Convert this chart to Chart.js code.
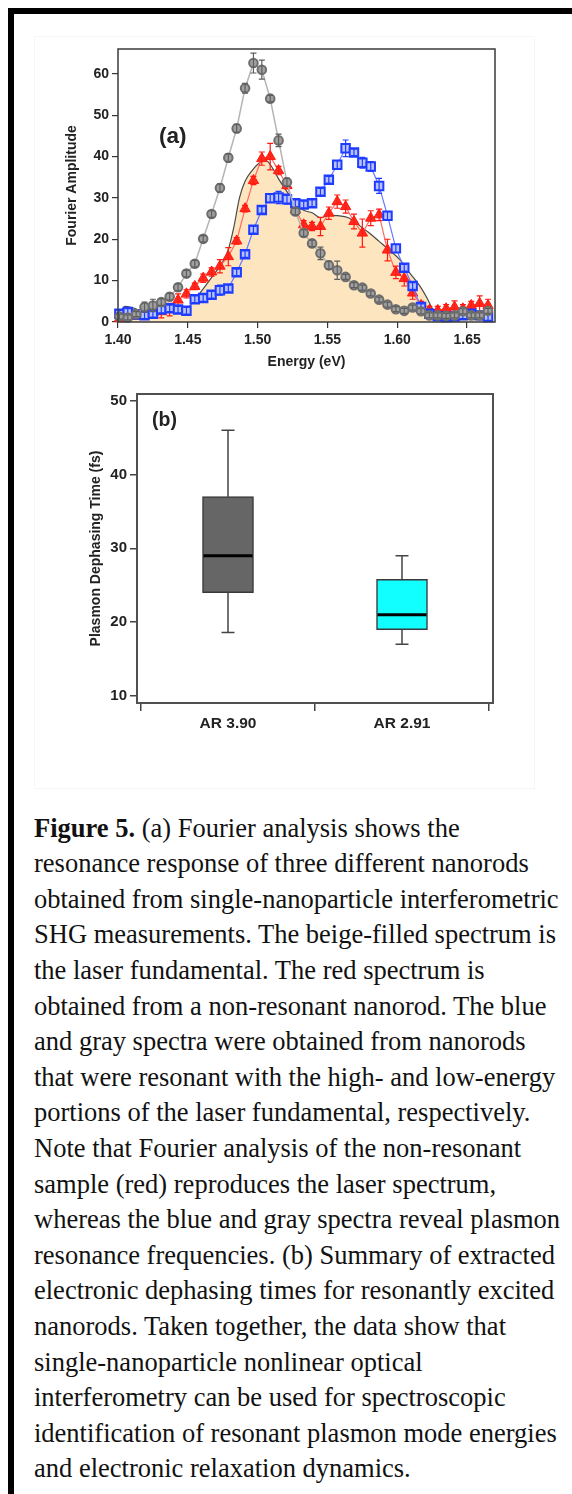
<!DOCTYPE html>
<html>
<head>
<meta charset="utf-8">
<script src="https://cdn.jsdelivr.net/npm/chart.js@4.4.0/dist/chart.umd.min.js"></script>
<style>
body{margin:0;background:#fff;width:572px;height:1494px;overflow:hidden;position:relative;}
#frame{position:absolute;left:8px;top:8px;width:700px;height:1600px;border-left:6px solid #000;border-top:6px solid #000;}
#inner{position:absolute;left:34px;top:36px;width:499px;height:751px;border:1px solid #f6f6f6;}
canvas{position:absolute;left:0;}
#chartA{top:0;}
#chartB{top:380px;}
.tag{position:absolute;font-family:'Liberation Sans',Arial,sans-serif;font-weight:bold;color:#222;line-height:1;}
#caption{position:absolute;left:34px;top:810.6px;font-family:'Liberation Serif','Times New Roman',serif;font-size:26.5px;line-height:35.6px;color:#111;white-space:nowrap;}
</style>
</head>
<body>
<div id="frame"></div>
<div id="inner"></div>
<canvas id="chartA" width="572" height="380"></canvas>
<canvas id="chartB" width="572" height="400"></canvas>
<span class="tag" style="left:159px;top:124.5px;font-size:22.5px;">(a)</span>
<span class="tag" style="left:152px;top:410px;font-size:19.5px;">(b)</span>
<div id="caption"><b>Figure 5.</b> (a) Fourier analysis shows the<br>resonance response of three different nanorods<br>obtained from single-nanoparticle interferometric<br>SHG measurements. The beige-filled spectrum is<br>the laser fundamental. The red spectrum is<br>obtained from a non-resonant nanorod. The blue<br>and gray spectra were obtained from nanorods<br>that were resonant with the high- and low-energy<br>portions of the laser fundamental, respectively.<br>Note that Fourier analysis of the non-resonant<br>sample (red) reproduces the laser spectrum,<br>whereas the blue and gray spectra reveal plasmon<br>resonance frequencies. (b) Summary of extracted<br>electronic dephasing times for resonantly excited<br>nanorods. Taken together, the data show that<br>single-nanoparticle nonlinear optical<br>interferometry can be used for spectroscopic<br>identification of resonant plasmon mode energies<br>and electronic relaxation dynamics.</div>
<script>
// ---- panel (a) data: Fourier amplitude vs energy (eV)
const energies = [1.401,1.407,1.413,1.419,1.425,1.431,1.437,1.443,1.449,1.455,1.461,1.467,1.473,1.479,1.485,1.491,1.497,1.503,1.509,1.515,1.521,1.527,1.533,1.539,1.545,1.551,1.557,1.563,1.569,1.575,1.581,1.587,1.593,1.599,1.605,1.611,1.617,1.623,1.629,1.635,1.641,1.647,1.653,1.659,1.665];
const grayAmp = [1.3,1.1,1.9,3.6,4.0,4.8,6.1,8.4,11.7,14.1,20.1,26.1,32.4,39.7,46.8,56.5,62.6,61.0,54.0,43.9,33.8,26.7,21.5,19.0,16.6,13.7,12.5,10.9,8.9,8.3,6.9,5.4,4.2,3.1,2.7,3.5,2.6,1.6,1.6,1.5,1.6,2.6,1.6,1.6,2.7];
const grayErr = [0.6,0.6,0.6,1.2,1.5,0.8,0.8,0.8,0.8,0.8,0.8,0.8,1.0,1.0,1.0,1.2,2.4,2.3,0.8,1.5,1.0,0.8,0.8,0.8,1.5,1.0,2.2,0.6,0.6,0.6,0.6,0.6,0.6,0.6,0.6,0.6,0.6,0.6,0.6,0.6,0.6,0.6,0.6,0.6,0.6];
const redAmp = [0.8,1.6,1.5,2.0,2.2,2.5,3.0,5.3,6.8,8.6,10.6,12.1,13.5,15.8,19.6,27.4,34.2,39.5,40.0,36.6,33.0,27.1,23.5,23.1,23.1,26.3,29.1,27.9,24.3,21.5,25.1,25.9,17.4,12.0,10.5,7.0,4.0,2.8,2.8,3.2,3.6,3.2,4.0,4.5,4.0];
const redErr = [0.5,0.5,0.8,0.8,0.8,1.5,1.5,1.5,1.0,0.8,1.0,1.0,1.6,2.2,0.8,0.8,1.0,1.6,3.2,1.0,0.8,0.8,1.0,1.0,2.2,1.5,1.6,1.6,1.8,3.4,1.8,1.4,2.6,1.5,1.8,1.5,1.0,1.0,1.0,1.0,1.5,1.0,1.0,1.8,1.5];
const blueAmp = [2.0,2.4,1.8,1.6,2.0,3.0,3.3,3.0,2.7,5.5,5.8,6.6,7.7,8.1,12.0,16.4,22.3,27.1,29.9,30.1,29.7,28.7,28.4,28.7,31.5,34.4,38.0,42.0,41.0,38.5,37.6,32.9,25.7,17.8,13.1,8.7,3.6,2.0,1.4,1.2,1.3,1.6,2.0,1.6,1.2];
const blueErr = [0.8,0.8,0.8,0.8,0.8,0.8,0.8,0.8,0.8,0.8,0.8,0.8,1.2,0.8,0.8,0.8,0.8,0.8,1.0,1.5,1.2,0.8,0.8,0.8,0.8,0.8,1.0,2.0,0.8,1.3,1.2,1.8,1.0,1.0,0.8,0.8,0.8,0.8,0.8,0.8,0.8,0.8,0.8,0.8,0.8];
// laser fundamental (beige filled spectrum)
const laserE = [1.400,1.405,1.410,1.416,1.422,1.430,1.438,1.446,1.451,1.455,1.461,1.468,1.474,1.479,1.483,1.487,1.491,1.496,1.502,1.506,1.510,1.515,1.521,1.527,1.533,1.539,1.545,1.551,1.557,1.565,1.573,1.580,1.587,1.595,1.602,1.609,1.616,1.621,1.626,1.631,1.640,1.650,1.660,1.667];
const laserAmp = [1.2,3.8,3.5,2.8,2.5,2.6,3.2,3.6,3.8,5.4,8.0,11.2,14.0,17.5,23.0,30.0,34.0,36.6,38.6,39.0,37.6,34.6,31.5,28.7,27.0,26.4,25.2,25.8,25.7,25.2,23.3,21.5,19.5,17.2,15.0,11.8,8.8,6.0,2.8,1.2,0.8,0.7,0.8,0.8];
const xTicksA = [1.40,1.45,1.50,1.55,1.60,1.65];
const yTicksA = [0,10,20,30,40,50,60];

// ---- panel (b) data: box plot of dephasing times (fs)
const boxLabels = ['AR 3.90','AR 2.91'];
const boxPos = [0,1];
const whiskLow = [18.6,17];
const boxLow = [24,19];
const medians = [29,21];
const boxHigh = [37,25.8];
const whiskHigh = [46,29];
const boxColors = ['#666666','#12ffff'];
const yTicksB = [10,20,30,40,50];
const xTicksB = [-0.5,0,0.5,1,1.5];

Chart.defaults.font.family = "'Liberation Sans', Arial, sans-serif";
Chart.defaults.color = '#222';

const pts = (xs, ys) => xs.map((x, i) => ({x: x, y: ys[i]}));

const framePlugin = {
  id: 'frame',
  afterDatasetsDraw(chart, args, opts) {
    const {ctx, chartArea: a} = chart;
    ctx.save();
    ctx.strokeStyle = opts.color;
    ctx.lineWidth = opts.width;
    ctx.strokeRect(a.left, a.top, a.right - a.left, a.bottom - a.top);
    ctx.restore();
  }
};

const errorBars = {
  id: 'errorBars',
  afterDatasetDraw(chart, args) {
    const ds = chart.data.datasets[args.index];
    if (!ds.errors) return;
    const ctx = chart.ctx, y = chart.scales.y;
    ctx.save();
    ctx.strokeStyle = ds.errorColor;
    ctx.lineWidth = 1.2;
    args.meta.data.forEach((p, i) => {
      const v = ds.data[i].y, e = ds.errors[i];
      const t = y.getPixelForValue(v + e), b = y.getPixelForValue(v - e);
      ctx.beginPath();
      ctx.moveTo(p.x, t); ctx.lineTo(p.x, b);
      ctx.moveTo(p.x - 3, t); ctx.lineTo(p.x + 3, t);
      ctx.moveTo(p.x - 3, b); ctx.lineTo(p.x + 3, b);
      ctx.stroke();
    });
    ctx.restore();
  }
};

const tickGrid = {drawOnChartArea: false, drawTicks: true, tickLength: 6, color: '#333', lineWidth: 1.2};

new Chart(document.getElementById('chartA'), {
  type: 'line',
  data: {
    datasets: [
      {data: pts(laserE, laserAmp), order: 4, borderColor: '#4a4a4a', borderWidth: 1.2,
       backgroundColor: '#fde5c0', fill: 'origin', pointRadius: 0, cubicInterpolationMode: 'monotone'},
      {data: pts(energies, redAmp), errors: redErr, errorColor: '#ff1a0f', order: 3, clip: false,
       borderColor: '#ff6a60', borderWidth: 1.2, pointStyle: 'triangle', pointRadius: 6,
       pointBackgroundColor: '#ff2a1f', pointBorderColor: '#ff1a0f', pointBorderWidth: 1},
      {data: pts(energies, blueAmp), errors: blueErr, errorColor: '#1e3cff', order: 2, clip: false,
       borderColor: '#6878ff', borderWidth: 1.2, pointStyle: 'rect', pointRadius: 6,
       pointBackgroundColor: '#b8c2ff', pointBorderColor: '#1e3cff', pointBorderWidth: 2},
      {data: pts(energies, grayAmp), errors: grayErr, errorColor: '#5e5e5e', order: 1, clip: false,
       borderColor: '#b4b4b4', borderWidth: 1.5, pointStyle: 'circle', pointRadius: 4.3,
       pointBackgroundColor: '#a0a0a0', pointBorderColor: '#6e6e6e', pointBorderWidth: 2}
    ]
  },
  options: {
    responsive: false, animation: false, devicePixelRatio: 1,
    layout: {padding: {left: 64, top: 49, right: 77, bottom: 9}},
    plugins: {legend: {display: false}, tooltip: {enabled: false}, frame: {color: '#3a3a3a', width: 1.5}},
    scales: {
      x: {
        type: 'linear', min: 1.40, max: 1.67,
        grid: tickGrid, border: {display: false},
        afterBuildTicks: s => { s.ticks = xTicksA.map(v => ({value: v})); },
        afterFit: s => { s.height = 49; },
        ticks: {font: {size: 14, weight: 'bold'}, padding: 4, maxRotation: 0, autoSkip: false,
                callback: v => v.toFixed(2)},
        title: {display: true, text: 'Energy (eV)', font: {size: 14, weight: 'bold'}, padding: 0}
      },
      y: {
        min: 0, max: 66,
        grid: tickGrid, border: {display: false},
        afterBuildTicks: s => { s.ticks = yTicksA.map(v => ({value: v})); },
        afterFit: s => { s.width = 54; },
        ticks: {font: {size: 14, weight: 'bold'}, padding: 3},
        title: {display: true, text: 'Fourier Amplitude', font: {size: 14, weight: 'bold'}, padding: 0}
      }
    }
  },
  plugins: [framePlugin, errorBars]
});

const boxExtras = {
  id: 'boxExtras',
  beforeDatasetsDraw(chart) {
    const {ctx} = chart, xs = chart.scales.x, ys = chart.scales.y;
    ctx.save();
    ctx.strokeStyle = '#444';
    ctx.lineWidth = 1.5;
    boxPos.forEach((p, i) => {
      const x = xs.getPixelForValue(p);
      const top = ys.getPixelForValue(whiskHigh[i]), bot = ys.getPixelForValue(whiskLow[i]);
      ctx.beginPath();
      ctx.moveTo(x, top); ctx.lineTo(x, ys.getPixelForValue(boxHigh[i]));
      ctx.moveTo(x, bot); ctx.lineTo(x, ys.getPixelForValue(boxLow[i]));
      ctx.moveTo(x - 6.5, top); ctx.lineTo(x + 6.5, top);
      ctx.moveTo(x - 6.5, bot); ctx.lineTo(x + 6.5, bot);
      ctx.stroke();
    });
    ctx.restore();
  },
  afterDatasetsDraw(chart) {
    const {ctx} = chart, ys = chart.scales.y;
    const meta = chart.getDatasetMeta(0);
    ctx.save();
    ctx.strokeStyle = '#000';
    ctx.lineWidth = 3;
    meta.data.forEach((bar, i) => {
      const y = ys.getPixelForValue(medians[i]);
      ctx.beginPath();
      ctx.moveTo(bar.x - bar.width / 2 + 1, y); ctx.lineTo(bar.x + bar.width / 2 - 1, y);
      ctx.stroke();
    });
    ctx.restore();
  }
};

new Chart(document.getElementById('chartB'), {
  type: 'bar',
  data: {
    datasets: [{
      data: boxPos.map((p, i) => ({x: p, y: [boxLow[i], boxHigh[i]]})),
      backgroundColor: boxColors, borderColor: '#3a3a3a', borderWidth: 1.5,
      borderSkipped: false, barThickness: 51
    }]
  },
  options: {
    responsive: false, animation: false, devicePixelRatio: 1,
    layout: {padding: {left: 88, top: 14, right: 79, bottom: 37}},
    plugins: {legend: {display: false}, tooltip: {enabled: false}, frame: {color: '#505050', width: 2}},
    scales: {
      x: {
        type: 'linear', min: -0.523, max: 1.523, offset: false,
        grid: {offset: false, drawOnChartArea: false, drawTicks: true, tickLength: 8, lineWidth: 1.5,
               color: c => (c.tick && Number.isInteger(c.tick.value)) ? 'rgba(0,0,0,0)' : '#444'},
        border: {display: false},
        afterBuildTicks: s => { s.ticks = xTicksB.map(v => ({value: v})); },
        afterFit: s => { s.height = 40; },
        ticks: {font: {size: 15.5, weight: 'bold'}, padding: 3, maxRotation: 0, autoSkip: false,
                callback: v => { const k = boxPos.indexOf(v); return k >= 0 ? boxLabels[k] : ''; }}
      },
      y: {
        min: 9.05, max: 50.91,
        grid: {drawOnChartArea: false, drawTicks: true, tickLength: 7, color: '#444', lineWidth: 1.5},
        border: {display: false},
        afterBuildTicks: s => { s.ticks = yTicksB.map(v => ({value: v})); },
        afterFit: s => { s.width = 49; },
        ticks: {font: {size: 15, weight: 'bold'}, padding: 3},
        title: {display: true, text: 'Plasmon Dephasing Time (fs)', font: {size: 14, weight: 'bold'}, padding: 0}
      }
    }
  },
  plugins: [framePlugin, boxExtras]
});
</script>
</body>
</html>
